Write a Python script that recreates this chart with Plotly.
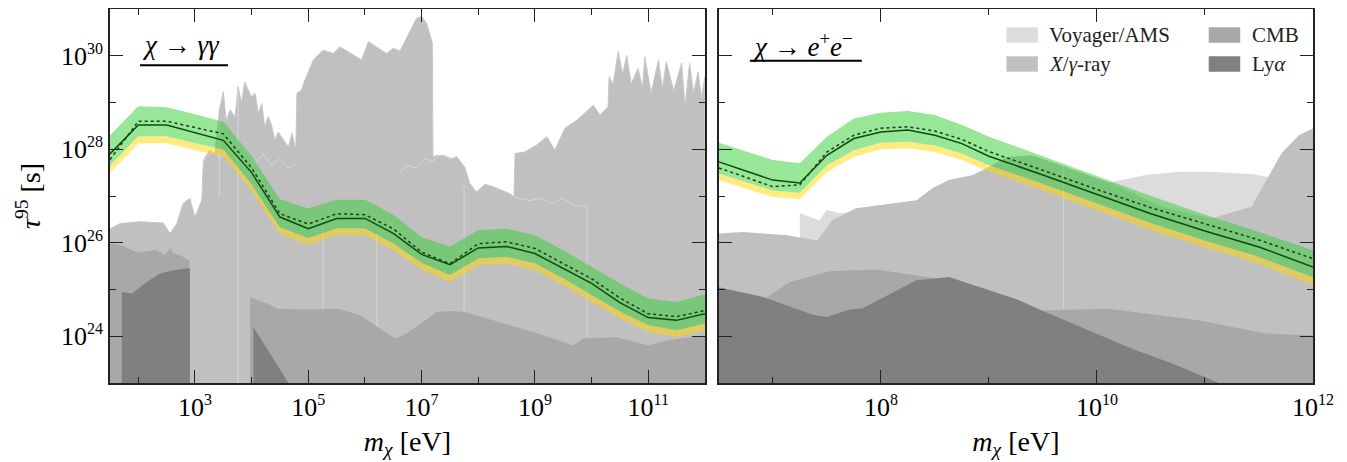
import plotly.graph_objects as go

# ---------------- data: log10(m_chi / eV) and log10(tau / s) ----------------
# Left panel: chi -> gamma gamma
gg_mass = [1.5, 2.0, 2.5, 3.0, 3.5, 4.0, 4.5, 5.0, 5.5, 6.0, 6.5, 7.0, 7.5, 8.0, 8.5, 9.0, 9.5, 10.0, 10.5, 11.0, 11.5, 12.0]
gg_median = [27.9, 28.52, 28.52, 28.36, 28.19, 27.5, 26.55, 26.3, 26.52, 26.52, 26.2, 25.75, 25.53, 25.89, 25.92, 25.77, 25.45, 25.13, 24.72, 24.4, 24.34, 24.48]
gg_dotted = [27.78, 28.6, 28.6, 28.47, 28.33, 27.6, 26.62, 26.4, 26.62, 26.6, 26.3, 25.8, 25.55, 25.98, 26.02, 25.88, 25.56, 25.23, 24.82, 24.48, 24.42, 24.55]
gg_hi = [28.3, 28.92, 28.9, 28.75, 28.59, 27.85, 26.93, 26.73, 26.92, 26.92, 26.6, 26.12, 25.92, 26.27, 26.3, 26.16, 25.84, 25.48, 25.13, 24.81, 24.73, 24.9]
gg_lo68 = [27.65, 28.28, 28.28, 28.13, 28.0, 27.25, 26.33, 26.1, 26.31, 26.31, 25.99, 25.57, 25.31, 25.67, 25.7, 25.56, 25.24, 24.88, 24.53, 24.24, 24.13, 24.28]
gg_lo95 = [27.5, 28.13, 28.13, 27.98, 27.85, 27.1, 26.18, 25.95, 26.16, 26.16, 25.84, 25.42, 25.16, 25.52, 25.55, 25.41, 25.09, 24.73, 24.38, 24.09, 23.98, 24.13]

gg_xray_mass = [1.5, 1.68, 2.03, 2.44, 2.56, 2.68, 2.79, 2.91, 3.0, 3.12, 3.15, 3.26, 3.35, 3.43, 3.5, 3.55, 3.62, 3.71,
                3.76, 3.82, 3.88, 3.94, 4.0, 4.06, 4.12, 4.18, 4.23, 4.29, 4.35, 4.41, 4.47, 4.56, 4.65, 4.71, 4.78,
                4.8, 4.88, 4.94, 5.09, 5.26, 5.44, 5.56, 5.74, 5.94, 6.06, 6.21, 6.38, 6.5,
                6.62, 6.76, 6.91, 7.0, 7.09, 7.19, 7.2, 7.29, 7.4, 7.53, 7.62, 7.76, 7.85, 7.97, 8.12, 8.26, 8.56,
                8.63, 8.65, 8.82, 9.03, 9.21, 9.35, 9.53, 9.74, 10.03, 10.15, 10.29, 10.31, 10.38, 10.47, 10.55,
                10.62, 10.7, 10.82, 10.9, 10.94, 11.05, 11.18, 11.25, 11.32, 11.45, 11.59, 11.65, 11.73, 11.8,
                11.88, 11.94, 12.0]
gg_xray_tau = [26.3, 26.41, 26.45, 26.42, 26.2, 26.41, 26.84, 26.95, 26.55, 26.91, 27.77, 27.98, 27.91, 28.84, 29.23, 28.62, 28.84, 28.7,
               29.34, 29.0, 29.44, 29.27, 29.12, 29.2, 28.77, 28.98, 28.48, 28.7, 28.52, 28.2, 28.37, 28.2, 28.05, 28.34, 28.0,
               29.2, 29.27, 29.48, 29.91, 30.12, 30.05, 30.19, 30.05, 29.91, 30.3, 30.19, 30.05, 30.16,
               30.1, 30.44, 30.8, 30.84, 30.69, 30.27, 27.84, 27.87, 27.87, 27.8, 27.84, 27.62, 27.27, 27.09, 27.25, 27.2, 27.05,
               26.98, 27.91, 27.94, 28.09, 28.27, 27.98, 28.45, 28.62, 28.94, 28.73, 28.91, 29.55, 29.4, 30.09, 29.6,
               30.01, 29.4, 29.73, 29.3, 29.98, 29.2, 29.91, 29.3, 29.87, 29.25, 29.85, 28.9, 29.84, 29.2,
               29.66, 29.1, 29.55]

gg_cmb1_mass = [1.5, 1.68, 1.97, 2.15, 2.32, 2.47, 2.56, 2.62, 2.74, 2.9]
gg_cmb1_tau = [25.98, 25.95, 25.8, 25.82, 25.85, 25.73, 25.88, 25.77, 25.73, 25.62]
gg_cmb2_mass = [3.97, 4.27, 4.47, 5.0, 5.53, 5.91, 6.21, 6.53, 6.68, 7.0, 7.26, 7.5, 7.76, 8.38, 8.97, 9.68, 9.85, 10.44, 11.0, 11.32, 12.0]
gg_cmb2_tau = [24.84, 24.70, 24.59, 24.57, 24.59, 24.45, 24.2, 23.95, 24.02, 24.28, 24.52, 24.54, 24.52, 24.3, 24.09, 23.8, 23.95, 23.98, 23.8, 23.91, 24.02]
gg_lya1_mass = [1.71, 1.88, 2.15, 2.38, 2.62, 2.91]
gg_lya1_tau = [24.95, 24.91, 25.16, 25.34, 25.41, 25.46]
gg_lya2_mass = [4.03, 4.65]
gg_lya2_tau = [24.2, 23.0]

# faint internal edges of overlapping X-ray limits
gg_edge1_mass = [3.15, 3.3, 3.45, 3.6, 3.75, 3.9, 4.05, 4.2, 4.35, 4.5, 4.65, 4.8]
gg_edge1_tau = [27.75, 27.95, 27.8, 28.0, 27.75, 27.95, 27.7, 27.9, 27.65, 27.8, 27.6, 27.7]
gg_edge2_mass = [8.62, 8.9, 9.1, 9.3, 9.5, 9.7, 9.92, 9.92]
gg_edge2_tau = [26.98, 26.9, 26.95, 26.85, 26.95, 26.8, 26.77, 23.95]
gg_edge3_mass = [6.6, 6.75, 6.9, 7.05, 7.2, 7.35, 7.5, 7.6]
gg_edge3_tau = [27.5, 27.65, 27.6, 27.8, 27.75, 27.9, 27.8, 27.85]
gg_vlines_mass = [3.43, 3.76, 5.26, 6.21, 7.75]
gg_vlines_top = [28.6, 29.3, 26.49, 26.2, 27.23]
gg_vlines_bot = [27.0, 23.0, 24.59, 24.2, 24.52]

# Right panel: chi -> e+ e-
ee_mass = [6.5, 7.0, 7.25, 7.5, 7.75, 8.0, 8.25, 8.5, 8.75, 9.0, 9.5, 10.0, 10.5, 11.0, 11.5, 12.0]
ee_median = [27.73, 27.34, 27.28, 27.87, 28.23, 28.37, 28.41, 28.30, 28.12, 27.85, 27.45, 27.03, 26.62, 26.25, 25.91, 25.48]
ee_dotted = [27.60, 27.2, 27.24, 27.94, 28.30, 28.45, 28.48, 28.39, 28.21, 27.95, 27.55, 27.14, 26.75, 26.4, 26.06, 25.66]
ee_hi = [28.14, 27.77, 27.70, 28.27, 28.66, 28.78, 28.82, 28.73, 28.52, 28.27, 27.85, 27.43, 27.0, 26.6, 26.23, 25.84]
ee_lo68 = [27.48, 27.12, 27.07, 27.66, 27.98, 28.14, 28.16, 28.08, 27.91, 27.66, 27.26, 26.84, 26.42, 26.05, 25.7, 25.26]
ee_lo95 = [27.34, 26.98, 26.93, 27.52, 27.84, 28.0, 28.02, 27.94, 27.77, 27.52, 27.12, 26.7, 26.27, 25.9, 25.55, 25.09]

ee_voy_mass = [7.25, 7.43, 7.5, 7.62, 8.5, 9.5, 10.14, 10.45, 10.76, 11.06, 11.47, 11.59, 12.0]
ee_voy_tau = [26.63, 26.48, 26.7, 26.63, 26.8, 27.1, 27.3, 27.45, 27.52, 27.52, 27.46, 27.4, 27.3]
ee_xray_mass = [6.5, 6.72, 7.13, 7.41, 7.55, 7.77, 8.05, 8.33, 8.48, 8.63, 8.85, 9.0, 9.16, 9.4, 9.71, 10.14, 10.6, 11.06, 11.43, 11.59, 11.71, 11.87, 12.0]
ee_xray_tau = [26.2, 26.23, 26.16, 26.05, 26.48, 26.74, 26.82, 26.91, 27.17, 27.34, 27.45, 27.62, 27.83, 27.87, 27.62, 27.27, 26.77, 26.52, 26.77, 27.41, 27.92, 28.3, 28.45]
ee_cmb_mass = [6.5, 6.94, 7.16, 7.52, 7.96, 8.33, 8.63, 9.09, 9.49, 10.11, 10.94, 11.56, 12.0]
ee_cmb_tau = [24.6, 24.83, 25.16, 25.39, 25.43, 25.3, 25.2, 24.85, 24.55, 24.59, 24.34, 24.06, 24.02]
ee_lya_mass = [6.5, 6.91, 7.37, 7.5, 7.71, 7.83, 8.33, 8.63, 8.94, 9.28, 9.49, 10.32, 10.69, 11.13]
ee_lya_tau = [25.05, 24.84, 24.46, 24.41, 24.57, 24.6, 25.2, 25.27, 25.03, 24.77, 24.55, 23.74, 23.42, 23.0]
ee_vline_mass = [9.69]
ee_vline_top = [27.65]
ee_vline_bot = [24.6]

# axis ticks (log10 values)
gg_xmajor = [3, 5, 7, 9, 11]
gg_xminor = [2, 4, 6, 8, 10, 12]
ee_xmajor = [8, 10, 12]
ee_xminor = [7, 9, 11]
ymajor = [24, 26, 28, 30]
yminor = [23, 25, 27, 29, 31]

# legend entries
legend_names = ["Voyager/AMS", "<i>X</i>/<i>γ</i>-ray", "CMB", "Ly<i>α</i>"]

# ---------------- styling ----------------
C_VOY = "#dcdcdc"
C_XRAY = "#c0c0c0"
C_CMB = "#a8a8a8"
C_LYA = "#808080"
C_GREEN = "rgba(50,205,50,0.5)"
C_YELLOW = "rgba(255,215,0,0.5)"
C_EDGE = "rgba(255,255,255,0.35)"
FLOOR = 22.0
SERIF = "Liberation Serif"


def lin(v):
    return [10.0 ** a for a in v]


fig = go.Figure()


def area(mass, tau, color, xa, ya, edge=None):
    xs = [mass[0]] + list(mass) + [mass[-1]]
    ys = [FLOOR] + list(tau) + [FLOOR]
    fig.add_trace(go.Scatter(x=lin(xs), y=lin(ys), fill="toself", fillcolor=color, mode="lines",
                             line=dict(color=edge or color, width=1 if edge else 0),
                             xaxis=xa, yaxis=ya, hoverinfo="skip", showlegend=False))


def band(mass, lo, hi, color, xa, ya):
    xs = list(mass) + list(mass)[::-1]
    ys = list(lo) + list(hi)[::-1]
    fig.add_trace(go.Scatter(x=lin(xs), y=lin(ys), fill="toself", fillcolor=color, mode="lines",
                             line=dict(width=0), xaxis=xa, yaxis=ya, hoverinfo="skip", showlegend=False))


def line(mass, tau, color, xa, ya, dash="solid", width=1.5):
    fig.add_trace(go.Scatter(x=lin(mass), y=lin(tau), mode="lines", line=dict(color=color, width=width, dash=dash),
                             xaxis=xa, yaxis=ya, hoverinfo="skip", showlegend=False))


# ---- left panel ----
area(gg_xray_mass, gg_xray_tau, C_XRAY, "x", "y", edge="#c8c8c8")
line(gg_edge1_mass, gg_edge1_tau, C_EDGE, "x", "y", width=1)
line(gg_edge2_mass, gg_edge2_tau, C_EDGE, "x", "y", width=1)
line(gg_edge3_mass, gg_edge3_tau, C_EDGE, "x", "y", width=1)
for m, t, b in zip(gg_vlines_mass, gg_vlines_top, gg_vlines_bot):
    line([m, m], [t, b], C_EDGE, "x", "y", width=1)
area(gg_cmb1_mass, gg_cmb1_tau, C_CMB, "x", "y")
area(gg_cmb2_mass, gg_cmb2_tau, C_CMB, "x", "y")
area(gg_lya1_mass, gg_lya1_tau, C_LYA, "x", "y")
area(gg_lya2_mass, gg_lya2_tau, C_LYA, "x", "y")
band(gg_mass, gg_lo95, gg_lo68, C_YELLOW, "x", "y")
band(gg_mass, gg_lo68, gg_hi, C_GREEN, "x", "y")
line(gg_mass, gg_dotted, "#1c3d1c", "x", "y", dash="dot")
line(gg_mass, gg_median, "#0b4d0b", "x", "y")

# ---- right panel ----
area(ee_voy_mass, ee_voy_tau, C_VOY, "x2", "y2")
area(ee_xray_mass, ee_xray_tau, C_XRAY, "x2", "y2")
for m, t, b in zip(ee_vline_mass, ee_vline_top, ee_vline_bot):
    line([m, m], [t, b], C_EDGE, "x2", "y2", width=1)
area(ee_cmb_mass, ee_cmb_tau, C_CMB, "x2", "y2")
area(ee_lya_mass, ee_lya_tau, C_LYA, "x2", "y2")
band(ee_mass, ee_lo95, ee_lo68, C_YELLOW, "x2", "y2")
band(ee_mass, ee_lo68, ee_hi, C_GREEN, "x2", "y2")
line(ee_mass, ee_dotted, "#1c3d1c", "x2", "y2", dash="dot")
line(ee_mass, ee_median, "#0b4d0b", "x2", "y2")


def pow_labels(exps):
    return [f"10<sup><span style='font-size:16px'>{e}</span></sup>" for e in exps]


axis_common = dict(
    type="log", showgrid=False, zeroline=False, showline=True, linecolor="#222", linewidth=1.5,
    mirror="allticks", ticks="inside", ticklen=13, tickwidth=1.3, tickcolor="#222",
    tickfont=dict(family=SERIF, size=26, color="black"), automargin=False,
)
title_font = dict(family=SERIF, size=28, color="black")

# the page body adds an 8 px offset, so the figure is 8 px smaller than the window
fig.update_layout(
    width=1339, height=454,
    margin=dict(l=102, r=34, t=1, b=79),
    paper_bgcolor="white", plot_bgcolor="white",
    showlegend=False,
    xaxis=dict(axis_common, domain=[0, 0.4945], range=[1.5, 12.0], anchor="y",
               tickmode="array", tickvals=lin(gg_xmajor), ticktext=pow_labels(gg_xmajor),
               minor=dict(tickvals=lin(gg_xminor), ticklen=6.5, tickwidth=1.3, tickcolor="#222", ticks="inside"),
               title=dict(text="<i>m</i><sub><i>χ</i></sub> [eV]", font=title_font, standoff=10)),
    yaxis=dict(axis_common, domain=[0, 1], range=[23, 31], anchor="x",
               tickmode="array", tickvals=lin(ymajor), ticktext=pow_labels(ymajor),
               minor=dict(tickvals=lin(yminor), ticklen=6.5, tickwidth=1.3, tickcolor="#222", ticks="inside"),
               title=dict(text="<i>τ</i><sup>95</sup> [s]", font=title_font, standoff=12)),
    xaxis2=dict(axis_common, domain=[0.5061, 1], range=[6.5, 12.0], anchor="y2",
                tickmode="array", tickvals=lin(ee_xmajor), ticktext=pow_labels(ee_xmajor),
                minor=dict(tickvals=lin(ee_xminor), ticklen=6.5, tickwidth=1.3, tickcolor="#222", ticks="inside"),
                title=dict(text="<i>m</i><sub><i>χ</i></sub> [eV]", font=title_font, standoff=10)),
    yaxis2=dict(axis_common, domain=[0, 1], range=[23, 31], anchor="x2", showticklabels=False,
                tickmode="array", tickvals=lin(ymajor),
                minor=dict(tickvals=lin(yminor), ticklen=6.5, tickwidth=1.3, tickcolor="#222", ticks="inside")),
)

# panel titles with underline
fig.add_annotation(text="<i>χ</i> → <i>γγ</i>", xref="x domain", yref="y domain", x=0.05, y=0.905,
                   xanchor="left", yanchor="middle", showarrow=False, font=dict(family=SERIF, size=27, color="black"))
fig.add_shape(type="line", xref="x domain", yref="y domain", x0=0.0504, x1=0.1983, y0=0.8497, y1=0.8497,
              line=dict(color="black", width=2))
fig.add_annotation(text="<i>χ</i> → <i>e</i><sup>+</sup><i>e</i><sup>−</sup>", xref="x2 domain", yref="y2 domain",
                   x=0.052, y=0.905, xanchor="left", yanchor="middle", showarrow=False,
                   font=dict(family=SERIF, size=27, color="black"))
fig.add_shape(type="line", xref="x2 domain", yref="y2 domain", x0=0.0522, x1=0.2406, y0=0.8618, y1=0.8618,
              line=dict(color="black", width=2))

# legend (2 x 2)
leg_colors = [C_VOY, C_XRAY, C_CMB, C_LYA]
leg_x = [0.484, 0.484, 0.8245, 0.8245]
leg_y = [0.9305, 0.853, 0.9305, 0.853]
for name, col, lx, ly in zip(legend_names, leg_colors, leg_x, leg_y):
    fig.add_shape(type="rect", xref="x2 domain", yref="y2 domain", x0=lx, x1=lx + 0.053,
                  y0=ly - 0.0205, y1=ly + 0.0205, fillcolor=col, line=dict(width=0))
    fig.add_annotation(text=name, xref="x2 domain", yref="y2 domain", x=lx + 0.069, y=ly,
                       xanchor="left", yanchor="middle", showarrow=False,
                       font=dict(family=SERIF, size=21, color="#222"))

fig.write_html("out.html")
